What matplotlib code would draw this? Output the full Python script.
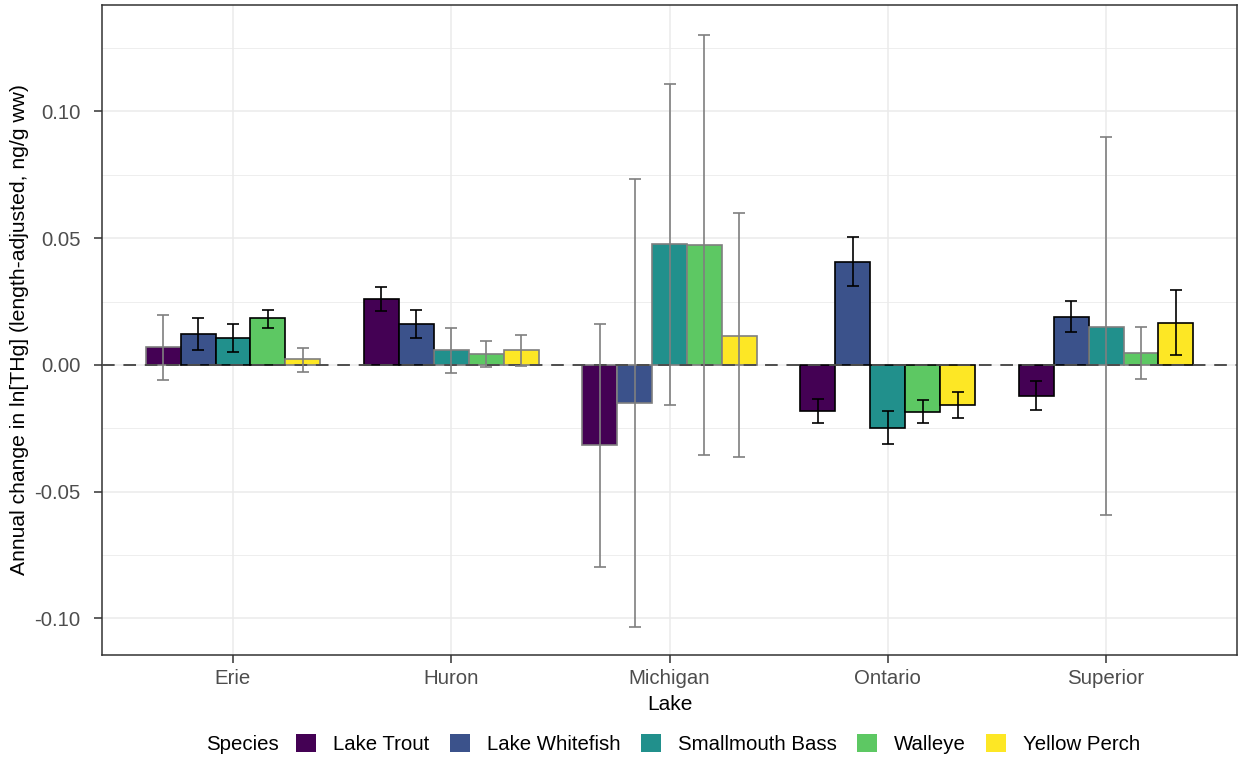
import matplotlib
matplotlib.use("Agg")
import matplotlib.pyplot as plt
from matplotlib.patches import Patch
import numpy as np

plt.rcParams['font.family'] = ['Liberation Sans', 'DejaVu Sans']

lakes = ["Erie", "Huron", "Michigan", "Ontario", "Superior"]
species = ["Lake Trout", "Lake Whitefish", "Smallmouth Bass", "Walleye", "Yellow Perch"]
colors = ["#440154", "#3B528B", "#21908C", "#5DC863", "#FDE725"]

# estimate, lower CI, upper CI per lake (rows) and species (columns)
estimate = [
    [0.0070, 0.0122, 0.0105, 0.0184, 0.0024],
    [0.0262, 0.0162, 0.0059, 0.0042, 0.0058],
    [-0.0316, -0.0150, 0.0477, 0.0473, 0.0116],
    [-0.0182, 0.0408, -0.0249, -0.0184, -0.0158],
    [-0.0121, 0.0191, 0.0151, 0.0046, 0.0167],
]
lower = [
    [-0.0058, 0.0059, 0.0053, 0.0147, -0.0028],
    [0.0214, 0.0108, -0.0032, -0.0008, -0.0005],
    [-0.0796, -0.1032, -0.0156, -0.0356, -0.0364],
    [-0.0230, 0.0312, -0.0313, -0.0230, -0.0209],
    [-0.0179, 0.0131, -0.0593, -0.0055, 0.0038],
]
upper = [
    [0.0197, 0.0187, 0.0160, 0.0218, 0.0068],
    [0.0309, 0.0216, 0.0146, 0.0096, 0.0118],
    [0.0161, 0.0734, 0.1108, 0.1300, 0.0601],
    [-0.0133, 0.0504, -0.0181, -0.0138, -0.0107],
    [-0.0064, 0.0251, 0.0901, 0.0149, 0.0295],
]

estimate = np.array(estimate)
lower = np.array(lower)
upper = np.array(upper)
significant = (lower > 0) | (upper < 0)

W, H = 1239, 761
fig = plt.figure(figsize=(W / 100, H / 100), dpi=100)
ax = fig.add_axes([102 / W, 1 - 655 / H, (1237 - 102) / W, 650 / H])

x = np.arange(1, len(lakes) + 1)
total_w = 0.8
bw = total_w / len(species)

ax.axhline(0, color="#4D4D4D", lw=1.4, dashes=(6.5, 4.5), zorder=3)

for j, sp in enumerate(species):
    xs = x - total_w / 2 + bw * (j + 0.5)
    for i in range(len(lakes)):
        edge = "black" if significant[i, j] else "#7F7F7F"
        ax.bar(xs[i], estimate[i, j], width=bw, color=colors[j], edgecolor=edge,
               linewidth=1.2, zorder=2)
        ax.errorbar(xs[i], estimate[i, j],
                    yerr=[[estimate[i, j] - lower[i, j]], [upper[i, j] - estimate[i, j]]],
                    fmt="none", ecolor=edge, elinewidth=1.2, capsize=4.2,
                    capthick=1.2, zorder=4)

ax.set_xlim(0.4, 5.6)
ax.set_ylim(-0.1144, 0.1420)
ax.set_xticks(x)
ax.set_xticklabels(lakes)
ax.set_yticks([-0.10, -0.05, 0.0, 0.05, 0.10])
ax.set_yticklabels(["-0.10", "-0.05", "0.00", "0.05", "0.10"])
ax.set_yticks([-0.075, -0.025, 0.025, 0.075, 0.125], minor=True)

ax.grid(which="major", color="#EBEBEB", lw=1.1, zorder=0)
ax.grid(which="minor", axis="y", color="#EBEBEB", lw=0.6, zorder=0)
ax.set_axisbelow(True)

for s in ax.spines.values():
    s.set_color("#333333")
    s.set_linewidth(1.1)

ax.tick_params(axis="both", which="major", labelsize=14.7, labelcolor="#4D4D4D",
               color="#333333", length=5.5, width=1.1)
ax.tick_params(axis="x", which="major", pad=4.5)
ax.tick_params(axis="y", which="major", pad=10)
ax.tick_params(axis="y", which="minor", length=0)

ax.set_xlabel("Lake", fontsize=15)
ax.xaxis.label.set_va("center")
ax.xaxis.set_label_coords(0.5, (655 - 705) / 650)
ax.set_ylabel("Annual change in ln[THg] (length-adjusted, ng/g ww)", fontsize=15.2)
ax.yaxis.label.set_va("center")
ax.yaxis.set_label_coords((20 - 102) / 1135, 0.5)

handles = [Patch(facecolor=c, edgecolor="none") for c in colors]
fig.text(206 / W, 1 - 744 / H, "Species", fontsize=14.7, va="center", ha="left")
fig.legend(handles, species, loc="center left", bbox_to_anchor=(296 / W, 1 - 744 / H),
           ncol=5, frameon=False, fontsize=14.7, handlelength=0.98, handleheight=0.98,
           handletextpad=0.83, columnspacing=1.0, borderpad=0, borderaxespad=0)

fig.savefig("out.png", dpi=100)
